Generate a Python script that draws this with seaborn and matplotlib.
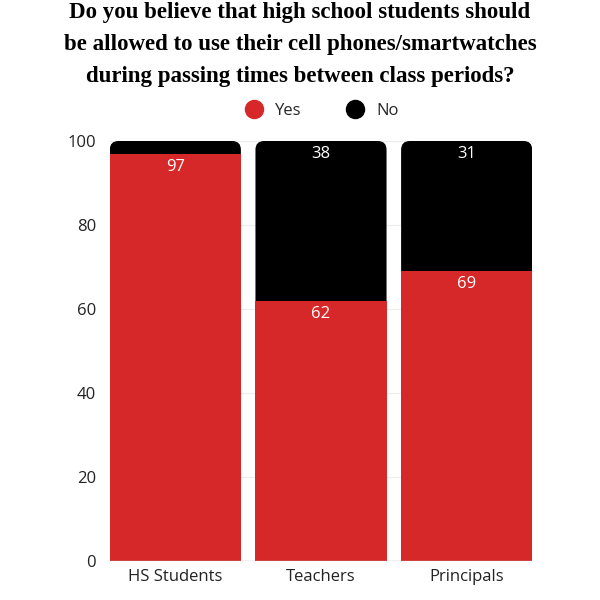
import matplotlib
matplotlib.use("Agg")
import matplotlib.pyplot as plt
from matplotlib.patches import FancyBboxPatch
from matplotlib.lines import Line2D
import seaborn as sns
import pandas as pd

groups = ["HS Students", "Teachers", "Principals"]
yes = [97, 62, 69]
no = [3, 38, 31]

red = "#d62828"
black = "#000000"

df = pd.DataFrame({"group": groups, "yes": yes, "no": no})
df["total"] = df["yes"] + df["no"]

sns.set_theme(style="white")
plt.rcParams["font.family"] = ["Open Sans", "DejaVu Sans"]

fig = plt.figure(figsize=(6, 6), dpi=100)
ax = fig.add_axes([0.183, 0.065, 0.704, 0.70])

# total bar (black) first, red "yes" on top
sns.barplot(data=df, x="group", y="total", color=black, width=0.9,
            saturation=1, linewidth=0, ax=ax, zorder=2)
n_tot = len(ax.patches)
sns.barplot(data=df, x="group", y="yes", color=red, width=0.9,
            saturation=1, linewidth=0, ax=ax, zorder=3)

ax.set_ylim(0, 100)
ax.set_xlim(-0.45, 2.45)

# replace black rectangles with rounded-top versions
fig.canvas.draw()
bb = ax.get_window_extent()
px_x = bb.width / (ax.get_xlim()[1] - ax.get_xlim()[0])
px_y = bb.height / (ax.get_ylim()[1] - ax.get_ylim()[0])
for p in list(ax.patches[:n_tot]):
    x, y0, w, h = p.get_x(), p.get_y(), p.get_width(), p.get_height()
    p.set_visible(False)
    rp = FancyBboxPatch((x, y0), w, h,
                        boxstyle="round,pad=0,rounding_size=0.06",
                        mutation_aspect=px_x / px_y,
                        facecolor=black, edgecolor="none", zorder=2)
    ax.add_patch(rp)

# value labels
for i, (y_, n_) in enumerate(zip(yes, no)):
    ax.text(i, y_ - 1.2, str(y_), ha="center", va="top", color="white", fontsize=12, zorder=5)
    if n_ > 5:
        ax.text(i, 100 - 1.2, str(n_), ha="center", va="top", color="white", fontsize=12, zorder=5)

ax.set_yticks([0, 20, 40, 60, 80, 100])
ax.yaxis.grid(True, color="#ececec", linewidth=0.8, zorder=0)
ax.set_axisbelow(True)
for s in ["top", "right", "left", "bottom"]:
    ax.spines[s].set_visible(False)
ax.axhline(0, color="#bbbbbb", linewidth=1, zorder=4)
ax.tick_params(axis="both", length=0, labelsize=12, colors="#222222")
ax.tick_params(axis="y", pad=10)
ax.tick_params(axis="x", pad=6)
ax.set_xlabel("")
ax.set_ylabel("")

fig.text(0.5, 0.997,
         "Do you believe that high school students should\n"
         "be allowed to use their cell phones/smartwatches\n"
         "during passing times between class periods?",
         ha="center", va="top", fontsize=16.5, fontweight="bold", color="black",
         family=["Liberation Serif", "DejaVu Serif"], linespacing=1.7)

handles = [Line2D([], [], marker="o", linestyle="", markersize=13, color=red),
           Line2D([], [], marker="o", linestyle="", markersize=13, color=black)]
fig.legend(handles, ["Yes", "No"], loc="center", bbox_to_anchor=(0.53, 0.815),
           ncol=2, frameon=False, fontsize=12, handletextpad=0.3, columnspacing=2.2)

fig.savefig("out.png", dpi=100)
